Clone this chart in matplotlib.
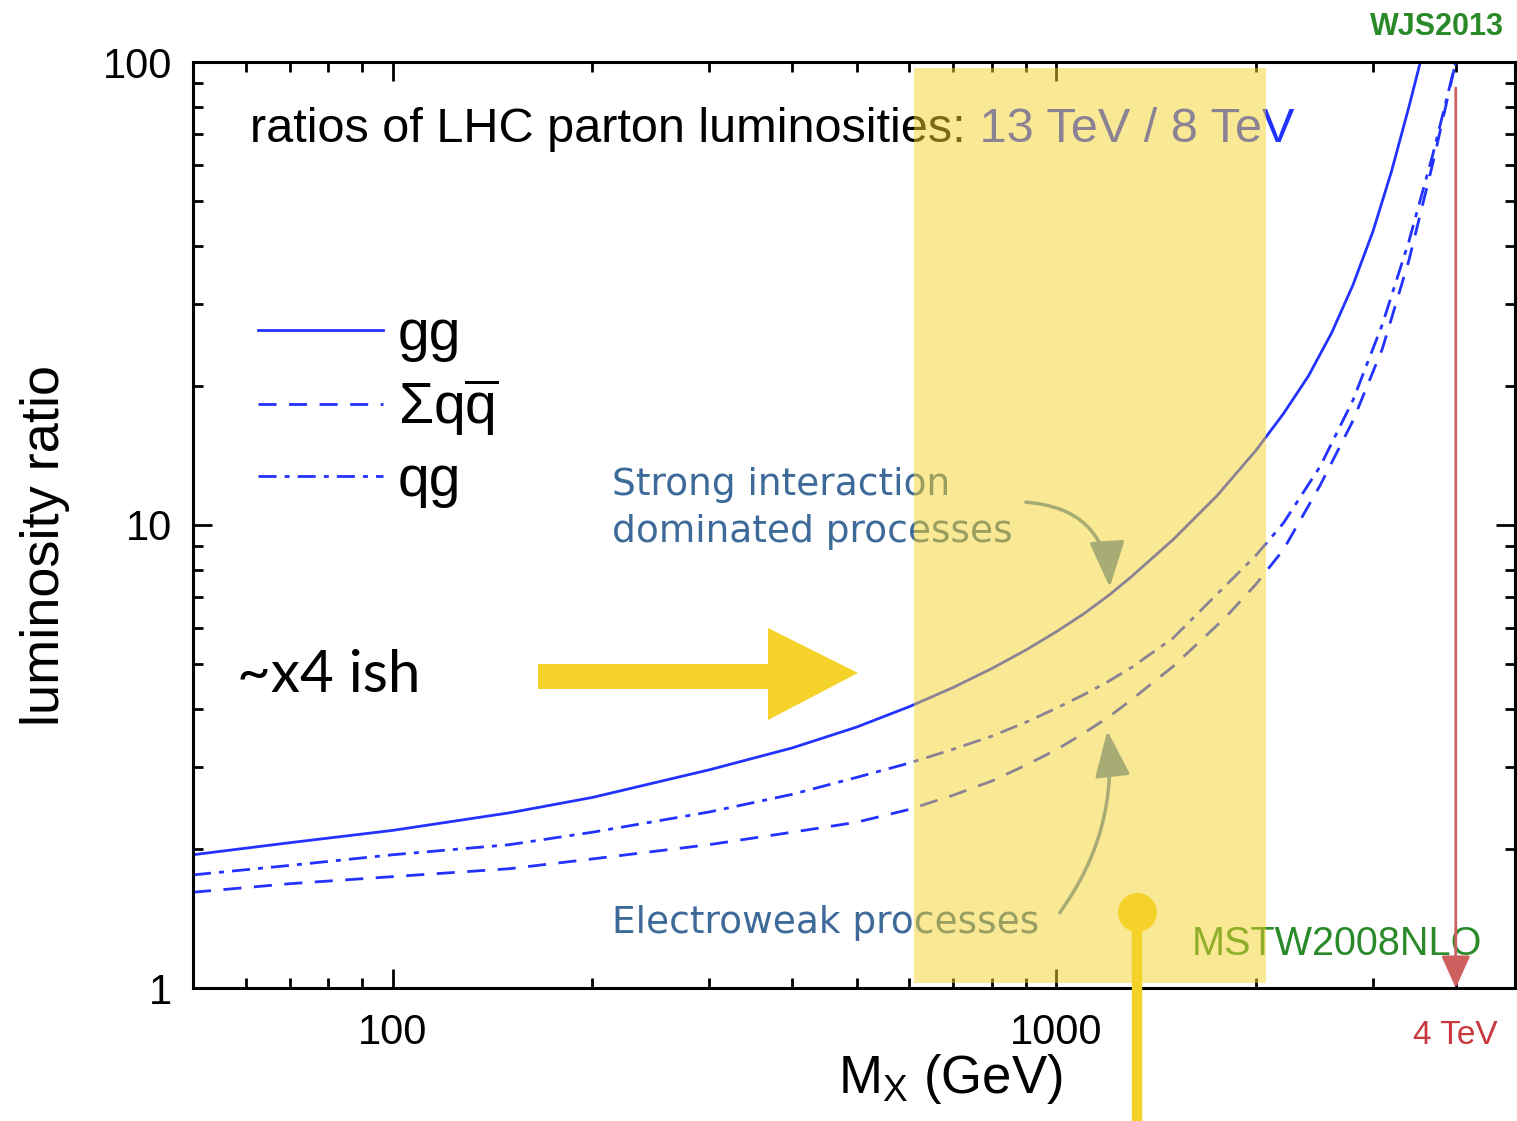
import matplotlib
matplotlib.use("Agg")
import matplotlib.pyplot as plt
from matplotlib.patches import Polygon
from matplotlib.ticker import FuncFormatter, NullFormatter

plt.rcParams["font.family"] = ["Liberation Sans", "DejaVu Sans"]
plt.rcParams["mathtext.fontset"] = "custom"
plt.rcParams["mathtext.rm"] = "Liberation Sans"
plt.rcParams["mathtext.it"] = "Liberation Sans:italic"

# 13 TeV / 8 TeV parton luminosity ratios vs. invariant mass (GeV)
mass_gg = [50, 70, 100, 150, 200, 300, 400, 500, 600, 700, 800, 900, 1000,
           1100, 1200, 1300, 1500, 1750, 2000, 2200, 2400, 2600, 2800, 3000,
           3200, 3400, 3550]
lumi_gg = [1.94, 2.06, 2.19, 2.39, 2.58, 2.96, 3.30, 3.66, 4.05, 4.46, 4.90,
           5.37, 5.88, 6.43, 7.05, 7.75, 9.3, 11.6, 14.5, 17.4, 21.0, 26.0,
           33.0, 43.0, 58.0, 80.0, 102.0]

mass_q = [50, 70, 100, 150, 200, 300, 400, 500, 600, 700, 800, 900, 1000,
          1100, 1200, 1300, 1500, 1800, 2000, 2200, 2500, 2800, 3100, 3400,
          3700, 4000]
lumi_qqbar = [1.61, 1.68, 1.74, 1.81, 1.90, 2.04, 2.17, 2.28, 2.43, 2.61,
              2.80, 3.03, 3.27, 3.55, 3.85, 4.20, 4.95, 6.32, 7.45, 8.85,
              12.2, 16.8, 24.0, 37.3, 61.0, 100.0]
lumi_qg = [1.755, 1.84, 1.94, 2.04, 2.17, 2.40, 2.62, 2.85, 3.06, 3.28, 3.50,
           3.75, 4.02, 4.30, 4.60, 4.93, 5.7, 7.4, 8.6, 10.1, 13.4, 18.6,
           27.1, 41.0, 63.7, 100.0]

band_lo, band_hi = 610, 2070   # highlighted mass window
sqrt_s_half = 4000             # 4 TeV kinematic marker

BLUE = "#2233ff"
STEEL = "#3d6a99"
ARROW = "#5a86c0"
GREEN = "#2a8a2a"
RED = "#c8383c"
YELLOW = "#f5d22a"

W, H = 1517, 1121
fig = plt.figure(figsize=(W / 100, H / 100), dpi=100)
ax = fig.add_axes([193 / W, 133 / H, 1322 / W, 926 / H])
ax.set_xscale("log")
ax.set_yscale("log")
ax.set_xlim(50, 4913)
ax.set_ylim(1, 100)

gg, = ax.plot(mass_gg, lumi_gg, color=BLUE, lw=2.0, label="gg")
qq, = ax.plot(mass_q, lumi_qqbar, color=BLUE, lw=2.0, ls=(0, (6.5, 4.5)),
              label=r"$\Sigma\mathrm{q}\overline{\mathrm{q}}$")
qg, = ax.plot(mass_q, lumi_qg, color=BLUE, lw=2.0,
              ls=(0, (6.5, 2.9, 1.8, 2.9)), label="qg")

# axes styling
for sp in ax.spines.values():
    sp.set_linewidth(2.2)
ax.tick_params(which="both", direction="in", top=True, right=True,
               width=2.0, labelsize=30)
ax.tick_params(which="major", length=14)
ax.tick_params(which="minor", length=7)
ax.tick_params(axis="y", pad=15)
ax.tick_params(axis="x", pad=18)
fmt = FuncFormatter(lambda v, _: f"{v:g}")
ax.xaxis.set_major_formatter(fmt)
ax.yaxis.set_major_formatter(fmt)
ax.xaxis.set_minor_formatter(NullFormatter())
ax.yaxis.set_minor_formatter(NullFormatter())

ax.set_xlabel(r"M$_\mathrm{X}$ (GeV)", fontsize=38)
ax.xaxis.set_label_coords((950 - 193) / 1322, (988 - 1052) / 926)
ax.xaxis.label.set_va("top")
ax.set_ylabel("luminosity ratio", fontsize=39)
ax.yaxis.set_label_coords((45 - 193) / 1322, (988 - 545) / 926)
ax.yaxis.label.set_va("center")

leg = ax.legend(handles=[gg, qq, qg], loc="upper left",
                bbox_to_anchor=((258 - 193) / 1322, (988 - 308) / 926),
                frameon=False, fontsize=41, handlelength=2.2,
                handletextpad=0.26, labelspacing=0.26, borderpad=0,
                borderaxespad=0)

# title with coloured energies
t1 = ax.text((250 - 193) / 1322, (988 - 142) / 926,
             "ratios of LHC parton luminosities:", transform=ax.transAxes,
             fontsize=35, va="baseline", ha="left")
ax.annotate(" 13 TeV / 8 TeV", xy=(1, 0), xycoords=t1, va="bottom",
            ha="left", fontsize=35, color=BLUE)

ax.text(0.317, (988 - 495) / 926, "Strong interaction", transform=ax.transAxes,
        fontsize=27, color=STEEL, family="DejaVu Sans", va="baseline")
ax.text(0.317, (988 - 542) / 926, "dominated processes", transform=ax.transAxes,
        fontsize=27, color=STEEL, family="DejaVu Sans", va="baseline")
ax.text(0.317, (988 - 933) / 926, "Electroweak processes", transform=ax.transAxes,
        fontsize=27, color=STEEL, family="DejaVu Sans", va="baseline")

ax.annotate("", xy=(1110, H - 590), xycoords="figure pixels",
            xytext=(1023, H - 502), textcoords="figure pixels",
            arrowprops=dict(arrowstyle="-|>,head_length=1.3,head_width=0.5",
                            connectionstyle="arc3,rad=-0.45", color=ARROW,
                            lw=2.5, mutation_scale=22))
ax.annotate("", xy=(1107, H - 728), xycoords="figure pixels",
            xytext=(1058, H - 915), textcoords="figure pixels",
            arrowprops=dict(arrowstyle="-|>,head_length=1.3,head_width=0.5",
                            connectionstyle="arc3,rad=0.2", color=ARROW,
                            lw=2.5, mutation_scale=22))

ax.text(0.975, (988 - 955) / 926, "MSTW2008NLO", transform=ax.transAxes,
        fontsize=28.5, color=GREEN, ha="right", va="baseline")
fig.text(1437 / W, 1 - 27 / H, "WJS2013", fontsize=22, color=GREEN,
         fontweight="bold", ha="center", va="center")

# 4 TeV marker
ax.annotate("", xy=(sqrt_s_half, 0.0), xycoords=("data", "axes fraction"),
            xytext=(sqrt_s_half, (988 - 88) / 926),
            textcoords=("data", "axes fraction"),
            arrowprops=dict(arrowstyle="-|>,head_length=1.0,head_width=0.45",
                            color="#d06060", lw=2.0, mutation_scale=20,
                            shrinkA=0, shrinkB=0))
ax.text(sqrt_s_half, (988 - 1035) / 926, "4 TeV", color=RED, fontsize=24,
        ha="center", va="center", transform=ax.get_xaxis_transform())

# highlighted window
ax.axvspan(band_lo, band_hi, ymin=(988 - 983) / 926, ymax=(988 - 68) / 926,
           color=YELLOW, alpha=0.5, lw=0, zorder=10)

# hand-drawn emphasis
ax.text((237 - 193) / 1322, (988 - 692) / 926, "~x4 ish", transform=ax.transAxes,
        fontsize=42, family="Lato", va="baseline")
arrow_px = [(538, 664), (768, 664), (768, 628), (858, 673), (768, 720),
            (768, 689), (538, 689)]
fig.add_artist(Polygon([(x / W, 1 - y / H) for x, y in arrow_px],
                       closed=True, color=YELLOW, lw=0,
                       transform=fig.transFigure, zorder=11))
ax.plot([(1137 - 193) / 1322] * 2, [(988 - 912) / 926, (988 - H) / 926],
        color=YELLOW, lw=7.5, transform=ax.transAxes, clip_on=False,
        zorder=11, solid_capstyle="butt")
ax.plot((1137 - 193) / 1322, (988 - 912) / 926, "o", ms=27, color=YELLOW,
        transform=ax.transAxes, clip_on=False, zorder=11)

fig.savefig("out.png", dpi=100)
